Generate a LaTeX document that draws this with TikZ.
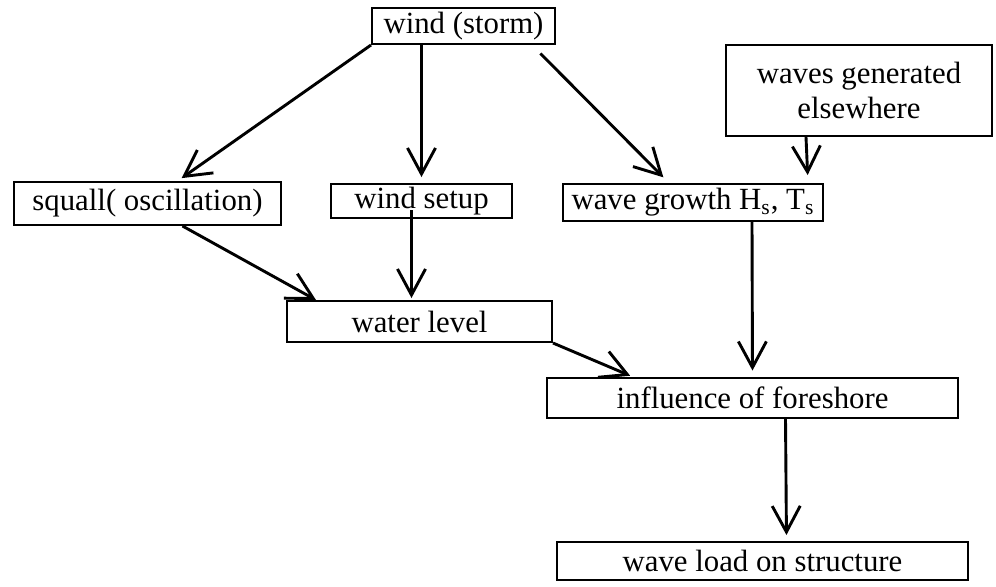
\documentclass[tikz,border=0pt]{standalone}
\usepackage{fontspec}
\setmainfont{Liberation Serif}
\usetikzlibrary{arrows.meta}

\begin{document}
\begin{tikzpicture}[x=0.5pt, y=-0.5pt]
		\tikzstyle{every node} = [draw, line width=1pt, shape=rectangle, inner sep=0pt, align=center, font=\fontsize{15.4}{17.5}\selectfont]
		\tikzstyle{link} = [line width=1.45pt, -{Straight Barb[length=13pt, width=14pt]}]
		\useasboundingbox (0, 0) rectangle (996, 586);
		\node (storm) at (463.5, 26) [minimum width=91.5pt, minimum height=18pt] {wind (storm)};
		\node (waves) at (859, 90.5) [minimum width=133pt, minimum height=45.5pt] {waves generated\\elsewhere};
		\node (squall) at (147.5, 203.5) [minimum width=133.5pt, minimum height=21.5pt] {squall( oscillation)};
		\node (setup) at (421.5, 201) [minimum width=90.5pt, minimum height=17pt] {wind setup};
		\node (growth) at (693, 202.5) [minimum width=130pt, minimum height=18.5pt] {wave growth H\textsubscript{s}, T\textsubscript{s}};
		\node (level) at (419.5, 321.5) [minimum width=132.5pt, minimum height=20.5pt] {water level};
		\node (foreshore) at (752.5, 397.5) [minimum width=205.5pt, minimum height=20pt] {influence of foreshore};
		\node (load) at (762.5, 561) [minimum width=205.5pt, minimum height=19pt] {wave load on structure};
		\draw [link, shorten >=2.5pt] (storm.south west) -- ([xshift=15pt]squall.north);
		\draw [link, shorten >=3pt] ([xshift=-21pt]storm.south) -- (setup.north);
		\draw [link, shorten <=6pt, shorten >=4pt] ([xshift=-12pt]storm.south east) -- ([xshift=-12pt]growth.north);
		\draw [link, shorten >=4pt] ([xshift=40.5pt]waves.south west) -- ([xshift=-8pt]growth.north east);
		\draw [link] ([xshift=17.5pt]squall.south) -- ([xshift=15pt]level.north west);
		\draw [link, shorten >=1pt] ([xshift=-5pt, yshift=-4.5pt]setup.center) -- ([xshift=-4pt]level.north);
		\draw [link, shorten >=3pt] ([xshift=29.5pt]growth.south) -- (foreshore.north);
		\draw [link, shorten >=1pt] (level.south east) -- ([xshift=43pt]foreshore.north west);
		\draw [link, shorten >=3pt] ([xshift=16.5pt]foreshore.south) -- ([xshift=12pt]load.north);
	\end{tikzpicture}
\end{document}
